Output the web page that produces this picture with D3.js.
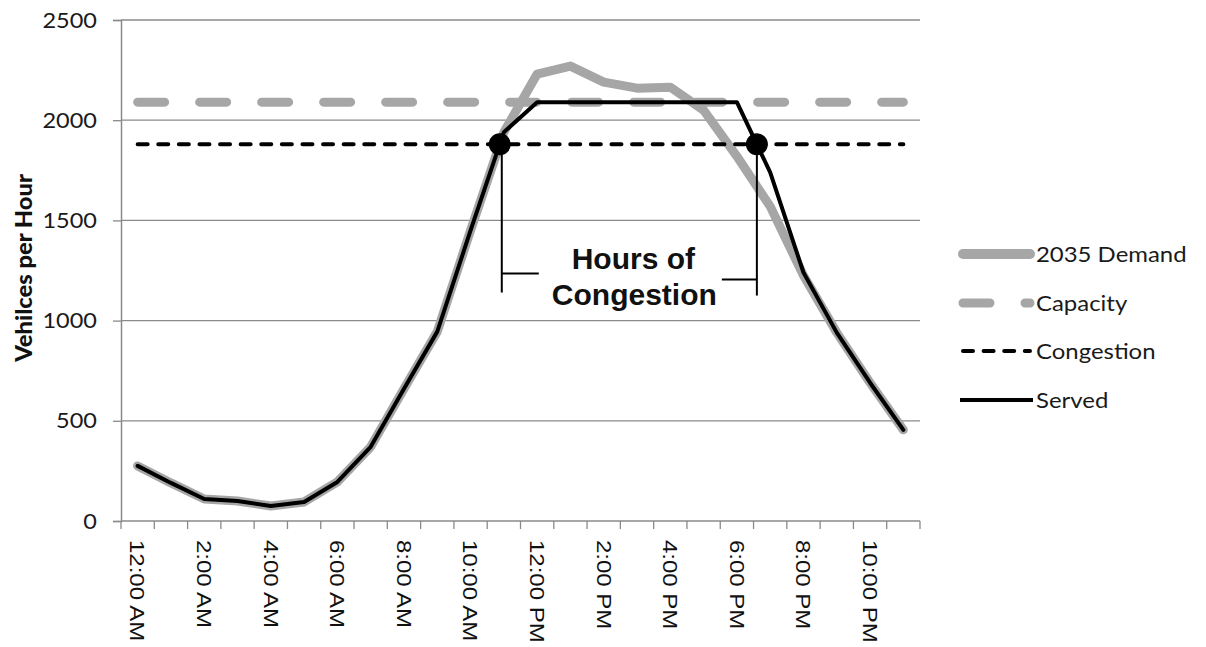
<!DOCTYPE html>
<html>
<head>
<meta charset="utf-8">
<script src="https://cdn.jsdelivr.net/npm/d3@7"></script>
<style>
  html, body { margin: 0; padding: 0; background: #fff; }
  svg { display: block; }
</style>
</head>
<body>
<svg id="chart" width="1206" height="647"></svg>
<script>
// ---------------- data ----------------
const categories = [
  "12:00 AM","1:00 AM","2:00 AM","3:00 AM","4:00 AM","5:00 AM",
  "6:00 AM","7:00 AM","8:00 AM","9:00 AM","10:00 AM","11:00 AM",
  "12:00 PM","1:00 PM","2:00 PM","3:00 PM","4:00 PM","5:00 PM",
  "6:00 PM","7:00 PM","8:00 PM","9:00 PM","10:00 PM","11:00 PM"
];
const demand2035 = [275,190,110,100,75,95,195,370,660,945,1450,1940,
                    2230,2270,2190,2160,2165,2050,1820,1570,1225,940,690,455];
const capacity   = [2090,2090,2090,2090,2090,2090,2090,2090,2090,2090,2090,2090,
                    2090,2090,2090,2090,2090,2090,2090,2090,2090,2090,2090,2090];
const congestion = [1880,1880,1880,1880,1880,1880,1880,1880,1880,1880,1880,1880,
                    1880,1880,1880,1880,1880,1880,1880,1880,1880,1880,1880,1880];
const served     = [275,190,110,100,75,95,195,370,660,945,1450,1940,
                    2090,2090,2090,2090,2090,2090,2090,1740,1240,940,690,455];
const yTicks = [0,500,1000,1500,2000,2500];
const seriesNames = ["2035 Demand","Capacity","Congestion","Served"];
const yTitle = "Vehilces per Hour";
const annotationLines = ["Hours of","Congestion"];

// ---------------- layout ----------------
const svg = d3.select("#chart");
const plotLeft = 121, plotRight = 920, plotTop = 20, plotBottom = 521;
const x = d3.scaleBand().domain(categories).range([plotLeft, plotRight]).padding(0);
const y = d3.scaleLinear().domain([0, 2500]).range([plotBottom, plotTop]);
const cx = c => x(c) + x.bandwidth() / 2;

const gridColor = "#8a8a8a";
const grey = "#a6a6a6";

// gridlines
svg.append("g").selectAll("line").data(yTicks.filter(v => v > 0)).join("line")
  .attr("x1", plotLeft).attr("x2", plotRight)
  .attr("y1", d => y(d)).attr("y2", d => y(d))
  .attr("stroke", gridColor).attr("stroke-width", 1.3);

// y axis
const yAxis = svg.append("g").attr("transform", `translate(${plotLeft},0)`)
  .call(d3.axisLeft(y).tickValues(yTicks).tickSize(8).tickFormat(d3.format("d")));
yAxis.select(".domain").attr("stroke", gridColor).attr("stroke-width", 1.5);
yAxis.selectAll(".tick line").attr("stroke", gridColor).attr("stroke-width", 1.3);
yAxis.selectAll(".tick text").remove();
svg.append("g").selectAll("text").data(yTicks).join("text")
  .attr("transform", d => `translate(97,${y(d)}) scale(1.12,1)`)
  .attr("text-anchor", "end").attr("dy", "0.36em")
  .attr("font-family", "Lato, 'Open Sans', sans-serif").attr("font-size", 21)
  .attr("fill", "#1a1a1a").text(d => d);

// x axis: ticks at band boundaries
const xAxis = svg.append("g").attr("transform", `translate(0,${plotBottom})`);
xAxis.append("line").attr("x1", plotLeft).attr("x2", plotRight).attr("y1", 0).attr("y2", 0)
  .attr("stroke", gridColor).attr("stroke-width", 1.5);
const boundaries = categories.map(c => x(c)).concat([plotRight]);
xAxis.selectAll("line.tk").data(boundaries).join("line").attr("class", "tk")
  .attr("x1", d => d).attr("x2", d => d).attr("y1", 0).attr("y2", 8)
  .attr("stroke", gridColor).attr("stroke-width", 1.3);
svg.append("g").selectAll("text").data(categories.filter((c, i) => i % 2 === 0)).join("text")
  .attr("transform", d => `translate(${cx(d)},540) rotate(90) scale(1.2,1)`)
  .attr("text-anchor", "start").attr("dy", "0.36em")
  .attr("font-family", "'Liberation Sans', Arial, sans-serif").attr("font-size", 20)
  .attr("fill", "#111").text(d => d);

// y title
svg.append("text")
  .attr("transform", `translate(32,268) rotate(-90) scale(1.08,1)`)
  .attr("text-anchor", "middle")
  .attr("font-family", "Lato, sans-serif").attr("font-weight", 900).attr("font-size", 22)
  .attr("fill", "#111").text(yTitle);

// ---------------- series ----------------
const line = d3.line().x((d, i) => cx(categories[i])).y(d => y(d));

svg.append("path").datum(demand2035).attr("d", line)
  .attr("fill", "none").attr("stroke", grey).attr("stroke-width", 9)
  .attr("stroke-linejoin", "round").attr("stroke-linecap", "round");

svg.append("path").datum(capacity).attr("d", line)
  .attr("fill", "none").attr("stroke", grey).attr("stroke-width", 9)
  .attr("stroke-linecap", "round").attr("stroke-dasharray", "27,35");

svg.append("path").datum(congestion).attr("d", line)
  .attr("fill", "none").attr("stroke", "#000").attr("stroke-width", 4)
  .attr("stroke-linecap", "round").attr("stroke-dasharray", "10,10.6");

svg.append("path").datum(served).attr("d", line)
  .attr("fill", "none").attr("stroke", "#000").attr("stroke-width", 4)
  .attr("stroke-linejoin", "round").attr("stroke-linecap", "round");

// ---------------- congestion crossings (from data) ----------------
const level = congestion[0];
const crossings = [];
for (let i = 0; i < served.length - 1; i++) {
  const a = served[i], b = served[i + 1];
  if ((a < level && b >= level) || (a >= level && b < level)) {
    const t = (level - a) / (b - a);
    const xa = cx(categories[i]), xb = cx(categories[i + 1]);
    crossings.push(xa + t * (xb - xa));
  }
}
const [xL, xR] = crossings;
const ann = svg.append("g").attr("stroke", "#000").attr("stroke-width", 2);
ann.append("line").attr("x1", xL + 2).attr("x2", xL + 2).attr("y1", y(level)).attr("y2", y(1140));
ann.append("line").attr("x1", xL + 2).attr("x2", xL + 39).attr("y1", y(1235)).attr("y2", y(1235));
ann.append("line").attr("x1", xR).attr("x2", xR).attr("y1", y(level)).attr("y2", y(1125));
ann.append("line").attr("x1", xR - 35).attr("x2", xR).attr("y1", y(1205)).attr("y2", y(1205));

svg.append("g").selectAll("circle").data(crossings).join("circle")
  .attr("cx", d => d).attr("cy", y(level)).attr("r", 11).attr("fill", "#000");

const annText = svg.append("text").attr("text-anchor", "middle")
  .attr("font-family", "'Liberation Sans', Arial, sans-serif").attr("font-weight", "bold")
  .attr("font-size", 30).attr("fill", "#111");
annText.append("tspan").attr("x", (xL + xR) / 2 + 5).attr("y", 269).text(annotationLines[0]);
annText.append("tspan").attr("x", (xL + xR) / 2 + 6).attr("y", 305).text(annotationLines[1]);

// ---------------- legend ----------------
const legendStyles = [
  { stroke: grey, width: 10, dash: null },
  { stroke: grey, width: 9, dash: "27,35" },
  { stroke: "#000", width: 4, dash: "10,10.6" },
  { stroke: "#000", width: 4, dash: null }
];
const legendY = [254, 303, 351, 400];
const lg = svg.append("g");
seriesNames.forEach((name, i) => {
  const s = legendStyles[i];
  const l = lg.append("line")
    .attr("x1", 963).attr("x2", 1030)
    .attr("y1", legendY[i]).attr("y2", legendY[i])
    .attr("stroke", s.stroke).attr("stroke-width", s.width)
    .attr("stroke-linecap", i === 3 ? "butt" : "round");
  if (i === 3) l.attr("x1", 960).attr("x2", 1033);
  if (s.dash) l.attr("stroke-dasharray", s.dash);
  lg.append("text")
    .attr("transform", `translate(1036,${legendY[i]}) scale(1.14,1)`)
    .attr("dy", "0.36em")
    .attr("font-family", "Lato, 'Open Sans', sans-serif").attr("font-size", 21)
    .attr("fill", "#1a1a1a").text(name);
});
</script>
</body>
</html>
